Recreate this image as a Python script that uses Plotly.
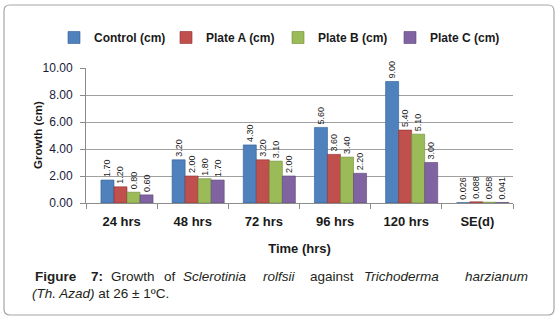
import plotly.graph_objects as go

categories = ["24 hrs", "48 hrs", "72 hrs", "96 hrs", "120 hrs", "SE(d)"]
series_names = ["Control (cm)", "Plate A (cm)", "Plate B (cm)", "Plate C (cm)"]
control = [1.70, 3.20, 4.30, 5.60, 9.00, 0.026]
plate_a = [1.20, 2.00, 3.20, 3.60, 5.40, 0.088]
plate_b = [0.80, 1.80, 3.10, 3.40, 5.10, 0.058]
plate_c = [0.60, 1.70, 2.00, 2.20, 3.00, 0.041]
y_ticks = [0, 2, 4, 6, 8, 10]
y_tick_labels = ["0.00", "2.00", "4.00", "6.00", "8.00", "10.00"]

series = [control, plate_a, plate_b, plate_c]
colors = ["#4F81BD", "#C0504D", "#9BBB59", "#8064A2"]
line_colors = ["#2E5C96", "#8E2F2C", "#6F8C35", "#5A4379"]
offsets = [-0.29, -0.107, 0.076, 0.259]
bar_w = 0.183

W, H = 560, 320
L, R, T, B = 86, 47, 68, 117
pw, ph = W - L - R, H - T - B


def px(x):
    return (x - L) / pw


def py(y):
    return (H - B - y) / ph


def fmt(v):
    return f"{v:.3f}" if v < 0.1 else f"{v:.2f}"


FONT = "Arial, Liberation Sans, sans-serif"
NARROW = "Liberation Sans Narrow, Arial Narrow, Liberation Sans, Arial, sans-serif"

fig = go.Figure()
for name, vals, c, lc, off in zip(series_names, series, colors, line_colors, offsets):
    fig.add_trace(go.Bar(
        name=name, x=categories, y=vals,
        marker=dict(color=c, line=dict(color=lc, width=0.6)),
        width=bar_w, offset=off,
        text=[fmt(v) for v in vals], textposition="outside", textangle=-90,
        constraintext="none",
        textfont=dict(family=NARROW, size=9, color="#1a1a1a"),
        cliponaxis=False, hoverinfo="skip",
    ))

annotations = []
CAP = dict(family=FONT, size=13.5, color="#231F20")
# caption line 1 (justified: words placed individually)
words1 = [
    ("<b>Figure</b>", 33, "left"), ("<b>7:</b>", 105, "right"), ("Growth", 133, "center"),
    ("of", 170, "center"), ("<i>Sclerotinia</i>", 215, "center"),
    ("<i>rolfsii</i>", 279, "center"), ("against", 332, "center"),
    ("<i>Trichoderma</i>", 401, "center"), ("<i>harzianum</i>", 530, "right"),
]
for txt, x0, anc in words1:
    annotations.append(dict(text=txt, x=px(x0), y=py(276), xref="paper", yref="paper",
                            xanchor=anc, yanchor="middle", showarrow=False, font=CAP))
annotations.append(dict(text="<i>(Th. Azad)</i> at 26 ± 1ºC.", x=px(30), y=py(293),
                        xref="paper", yref="paper", xanchor="left", yanchor="middle",
                        showarrow=False, font=CAP))
# y-axis title
annotations.append(dict(text="<b>Growth (cm)</b>", x=px(38), y=py(135), xref="paper",
                        yref="paper", xanchor="center", yanchor="middle", textangle=-90,
                        showarrow=False, font=dict(family=FONT, size=11.5, color="#1a1a1a")))

# rounded frame
x0, y0, x1, y1, r = px(4), py(5), px(554), py(315), 6
rx, ry = r / pw, r / ph
path = (f"M{x0+rx},{y0} L{x1-rx},{y0} Q{x1},{y0} {x1},{y0-ry} "
        f"L{x1},{y1+ry} Q{x1},{y1} {x1-rx},{y1} L{x0+rx},{y1} "
        f"Q{x0},{y1} {x0},{y1+ry} L{x0},{y0-ry} Q{x0},{y0} {x0+rx},{y0} Z")

fig.update_layout(
    width=W, height=H,
    margin=dict(l=L, r=R, t=T, b=B, pad=0),
    paper_bgcolor="white", plot_bgcolor="white",
    font=dict(family=FONT, color="#1a1a1a"),
    barmode="group",
    showlegend=True,
    legend=dict(orientation="h", x=px(54), y=py(23), xanchor="left", yanchor="top",
                font=dict(family=FONT, size=12, color="#1a1a1a", weight="bold"),
                entrywidth=67, itemwidth=30, bgcolor="rgba(0,0,0,0)",
                traceorder="normal"),
    xaxis=dict(
        type="category", range=[-0.5, 5.5],
        showline=True, linecolor="#8c8c8c", linewidth=1,
        ticks="outside", tickson="boundaries", ticklen=5, tickcolor="#8c8c8c",
        ticklabelstandoff=6,
        tickfont=dict(family=FONT, size=13, color="#1a1a1a", weight="bold"),
        title=dict(text="<b>Time (hrs)</b>", font=dict(family=FONT, size=13, color="#1a1a1a"),
                   standoff=16),
        showgrid=False,
    ),
    yaxis=dict(
        range=[0, 10], tickvals=y_ticks, ticktext=y_tick_labels,
        showline=True, linecolor="#8c8c8c", linewidth=1,
        ticks="outside", ticklen=5, tickcolor="#8c8c8c",
        ticklabelstandoff=5,
        tickfont=dict(family=FONT, size=12, color="#1a1a3a"),
        showgrid=True, gridcolor="#a0a0a0", gridwidth=1,
        zeroline=False,
    ),
    shapes=[dict(type="path", path=path, xref="paper", yref="paper",
                 line=dict(color="#a6a6a6", width=1.2), fillcolor="rgba(0,0,0,0)", layer="below")],
    annotations=annotations,
)

fig.write_html("out.html", config={"displayModeBar": False},
               post_script="document.body.style.margin='0';")
